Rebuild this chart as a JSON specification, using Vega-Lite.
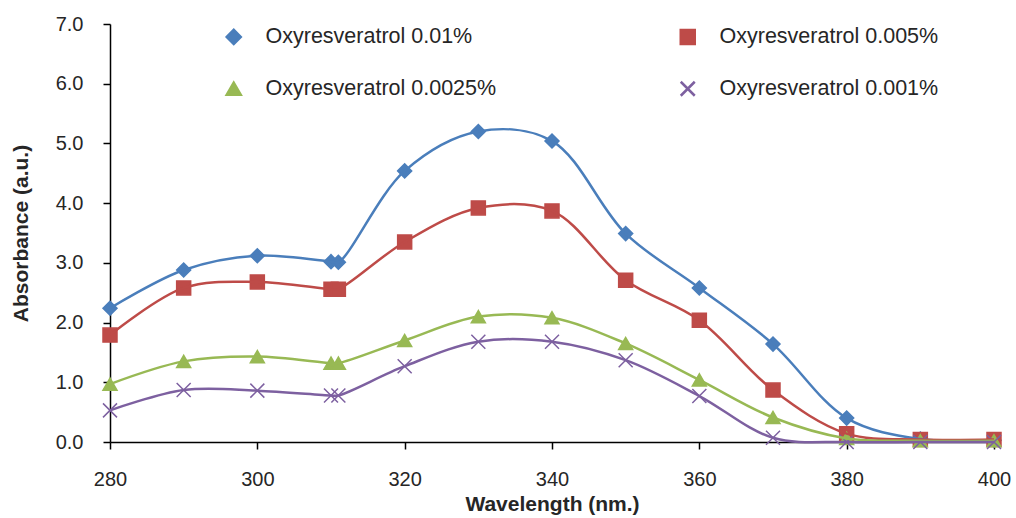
{
  "$schema": "https://vega.github.io/schema/vega-lite/v6.json",
  "width": 884,
  "height": 418,
  "autosize": {"type": "none"},
  "padding": {"left": 110, "top": 24, "right": 22, "bottom": 76},
  "background": "white",
  "config": {
    "view": {"stroke": null},
    "font": "Liberation Sans",
    "axis": {
      "grid": false,
      "labelFlush": false,
      "domainColor": "#000000",
      "domainWidth": 1.5,
      "tickColor": "#000000",
      "tickWidth": 1.5,
      "tickSize": 7,
      "labelFont": "Liberation Sans",
      "labelFontSize": 20,
      "labelColor": "#262626",
      "titleFont": "Liberation Sans",
      "titleFontSize": 21,
      "titleFontWeight": "bold",
      "titleColor": "#262626"
    }
  },
  "data": {
    "values": [
      {"wl": 280, "a": 2.24, "s": "Oxyresveratrol 0.01%"},
      {"wl": 290, "a": 2.88, "s": "Oxyresveratrol 0.01%"},
      {"wl": 300, "a": 3.12, "s": "Oxyresveratrol 0.01%"},
      {"wl": 310, "a": 3.02, "s": "Oxyresveratrol 0.01%"},
      {"wl": 311, "a": 3.01, "s": "Oxyresveratrol 0.01%"},
      {"wl": 320, "a": 4.54, "s": "Oxyresveratrol 0.01%"},
      {"wl": 330, "a": 5.20, "s": "Oxyresveratrol 0.01%"},
      {"wl": 340, "a": 5.04, "s": "Oxyresveratrol 0.01%"},
      {"wl": 350, "a": 3.49, "s": "Oxyresveratrol 0.01%"},
      {"wl": 360, "a": 2.58, "s": "Oxyresveratrol 0.01%"},
      {"wl": 370, "a": 1.64, "s": "Oxyresveratrol 0.01%"},
      {"wl": 380, "a": 0.40, "s": "Oxyresveratrol 0.01%"},
      {"wl": 390, "a": 0.05, "s": "Oxyresveratrol 0.01%"},
      {"wl": 400, "a": 0.03, "s": "Oxyresveratrol 0.01%"},
      {"wl": 280, "a": 1.79, "s": "Oxyresveratrol 0.005%"},
      {"wl": 290, "a": 2.58, "s": "Oxyresveratrol 0.005%"},
      {"wl": 300, "a": 2.68, "s": "Oxyresveratrol 0.005%"},
      {"wl": 310, "a": 2.56, "s": "Oxyresveratrol 0.005%"},
      {"wl": 311, "a": 2.56, "s": "Oxyresveratrol 0.005%"},
      {"wl": 320, "a": 3.35, "s": "Oxyresveratrol 0.005%"},
      {"wl": 330, "a": 3.92, "s": "Oxyresveratrol 0.005%"},
      {"wl": 340, "a": 3.87, "s": "Oxyresveratrol 0.005%"},
      {"wl": 350, "a": 2.71, "s": "Oxyresveratrol 0.005%"},
      {"wl": 360, "a": 2.04, "s": "Oxyresveratrol 0.005%"},
      {"wl": 370, "a": 0.87, "s": "Oxyresveratrol 0.005%"},
      {"wl": 380, "a": 0.14, "s": "Oxyresveratrol 0.005%"},
      {"wl": 390, "a": 0.04, "s": "Oxyresveratrol 0.005%"},
      {"wl": 400, "a": 0.04, "s": "Oxyresveratrol 0.005%"},
      {"wl": 280, "a": 0.97, "s": "Oxyresveratrol 0.0025%"},
      {"wl": 290, "a": 1.35, "s": "Oxyresveratrol 0.0025%"},
      {"wl": 300, "a": 1.43, "s": "Oxyresveratrol 0.0025%"},
      {"wl": 310, "a": 1.32, "s": "Oxyresveratrol 0.0025%"},
      {"wl": 311, "a": 1.32, "s": "Oxyresveratrol 0.0025%"},
      {"wl": 320, "a": 1.70, "s": "Oxyresveratrol 0.0025%"},
      {"wl": 330, "a": 2.10, "s": "Oxyresveratrol 0.0025%"},
      {"wl": 340, "a": 2.08, "s": "Oxyresveratrol 0.0025%"},
      {"wl": 350, "a": 1.65, "s": "Oxyresveratrol 0.0025%"},
      {"wl": 360, "a": 1.04, "s": "Oxyresveratrol 0.0025%"},
      {"wl": 370, "a": 0.41, "s": "Oxyresveratrol 0.0025%"},
      {"wl": 380, "a": 0.06, "s": "Oxyresveratrol 0.0025%"},
      {"wl": 390, "a": 0.02, "s": "Oxyresveratrol 0.0025%"},
      {"wl": 400, "a": 0.02, "s": "Oxyresveratrol 0.0025%"},
      {"wl": 280, "a": 0.53, "s": "Oxyresveratrol 0.001%"},
      {"wl": 290, "a": 0.87, "s": "Oxyresveratrol 0.001%"},
      {"wl": 300, "a": 0.86, "s": "Oxyresveratrol 0.001%"},
      {"wl": 310, "a": 0.78, "s": "Oxyresveratrol 0.001%"},
      {"wl": 311, "a": 0.78, "s": "Oxyresveratrol 0.001%"},
      {"wl": 320, "a": 1.27, "s": "Oxyresveratrol 0.001%"},
      {"wl": 330, "a": 1.68, "s": "Oxyresveratrol 0.001%"},
      {"wl": 340, "a": 1.68, "s": "Oxyresveratrol 0.001%"},
      {"wl": 350, "a": 1.37, "s": "Oxyresveratrol 0.001%"},
      {"wl": 360, "a": 0.77, "s": "Oxyresveratrol 0.001%"},
      {"wl": 370, "a": 0.07, "s": "Oxyresveratrol 0.001%"},
      {"wl": 380, "a": 0.00, "s": "Oxyresveratrol 0.001%"},
      {"wl": 390, "a": 0.00, "s": "Oxyresveratrol 0.001%"},
      {"wl": 400, "a": 0.00, "s": "Oxyresveratrol 0.001%"}
    ]
  },
  "encoding": {
    "x": {
      "field": "wl", "type": "quantitative",
      "scale": {"domain": [280, 400], "nice": false, "zero": false},
      "axis": {"values": [280, 300, 320, 340, 360, 380, 400], "title": "Wavelength (nm.)", "labelPadding": 20, "titlePadding": 4}
    },
    "y": {
      "field": "a", "type": "quantitative",
      "scale": {"domain": [0, 7], "nice": false},
      "axis": {"values": [0, 1, 2, 3, 4, 5, 6, 7], "format": ".1f", "title": "Absorbance (a.u.)", "labelPadding": 20, "titlePadding": 24}
    }
  },
  "layer": [
    {
      "mark": {"type": "point", "filled": true, "opacity": 1, "size": 196, "strokeWidth": 1.5},
      "encoding": {
        "fill": {
          "field": "s", "type": "nominal",
          "scale": {"domain": ["Oxyresveratrol 0.01%", "Oxyresveratrol 0.005%", "Oxyresveratrol 0.0025%", "Oxyresveratrol 0.001%"], "range": ["#4A7EBB", "#BE4B48", "#98B954", "#7D60A0"]},
          "legend": {
            "title": null,
            "orient": "none",
            "legendX": 113,
            "legendY": 2,
            "direction": "horizontal",
            "columns": 2,
            "columnPadding": 178,
            "rowPadding": 27,
            "padding": 0,
            "symbolSize": 196,
            "symbolStrokeWidth": 2.5,
            "labelOffset": 21,
            "labelFont": "Liberation Sans",
            "labelFontSize": 21.5,
            "labelColor": "#262626",
            "labelLimit": 400
          }
        },
        "stroke": {
          "field": "s", "type": "nominal"
        },
        "shape": {
          "field": "s", "type": "nominal",
          "scale": {"domain": ["Oxyresveratrol 0.01%", "Oxyresveratrol 0.005%", "Oxyresveratrol 0.0025%", "Oxyresveratrol 0.001%"], "range": ["diamond", "square", "triangle-up", "M-1,-1L1,1M-1,1L1,-1"]}
        }
      }
    },
    {
      "mark": {"type": "line", "interpolate": "catmull-rom", "strokeWidth": 2.5},
      "encoding": {
        "stroke": {
          "field": "s", "type": "nominal",
          "scale": {"domain": ["Oxyresveratrol 0.01%", "Oxyresveratrol 0.005%", "Oxyresveratrol 0.0025%", "Oxyresveratrol 0.001%"], "range": ["#4A7EBB", "#BE4B48", "#98B954", "#7D60A0"]}
        },
        "detail": {"field": "s"}
      }
    }
  ]
}
